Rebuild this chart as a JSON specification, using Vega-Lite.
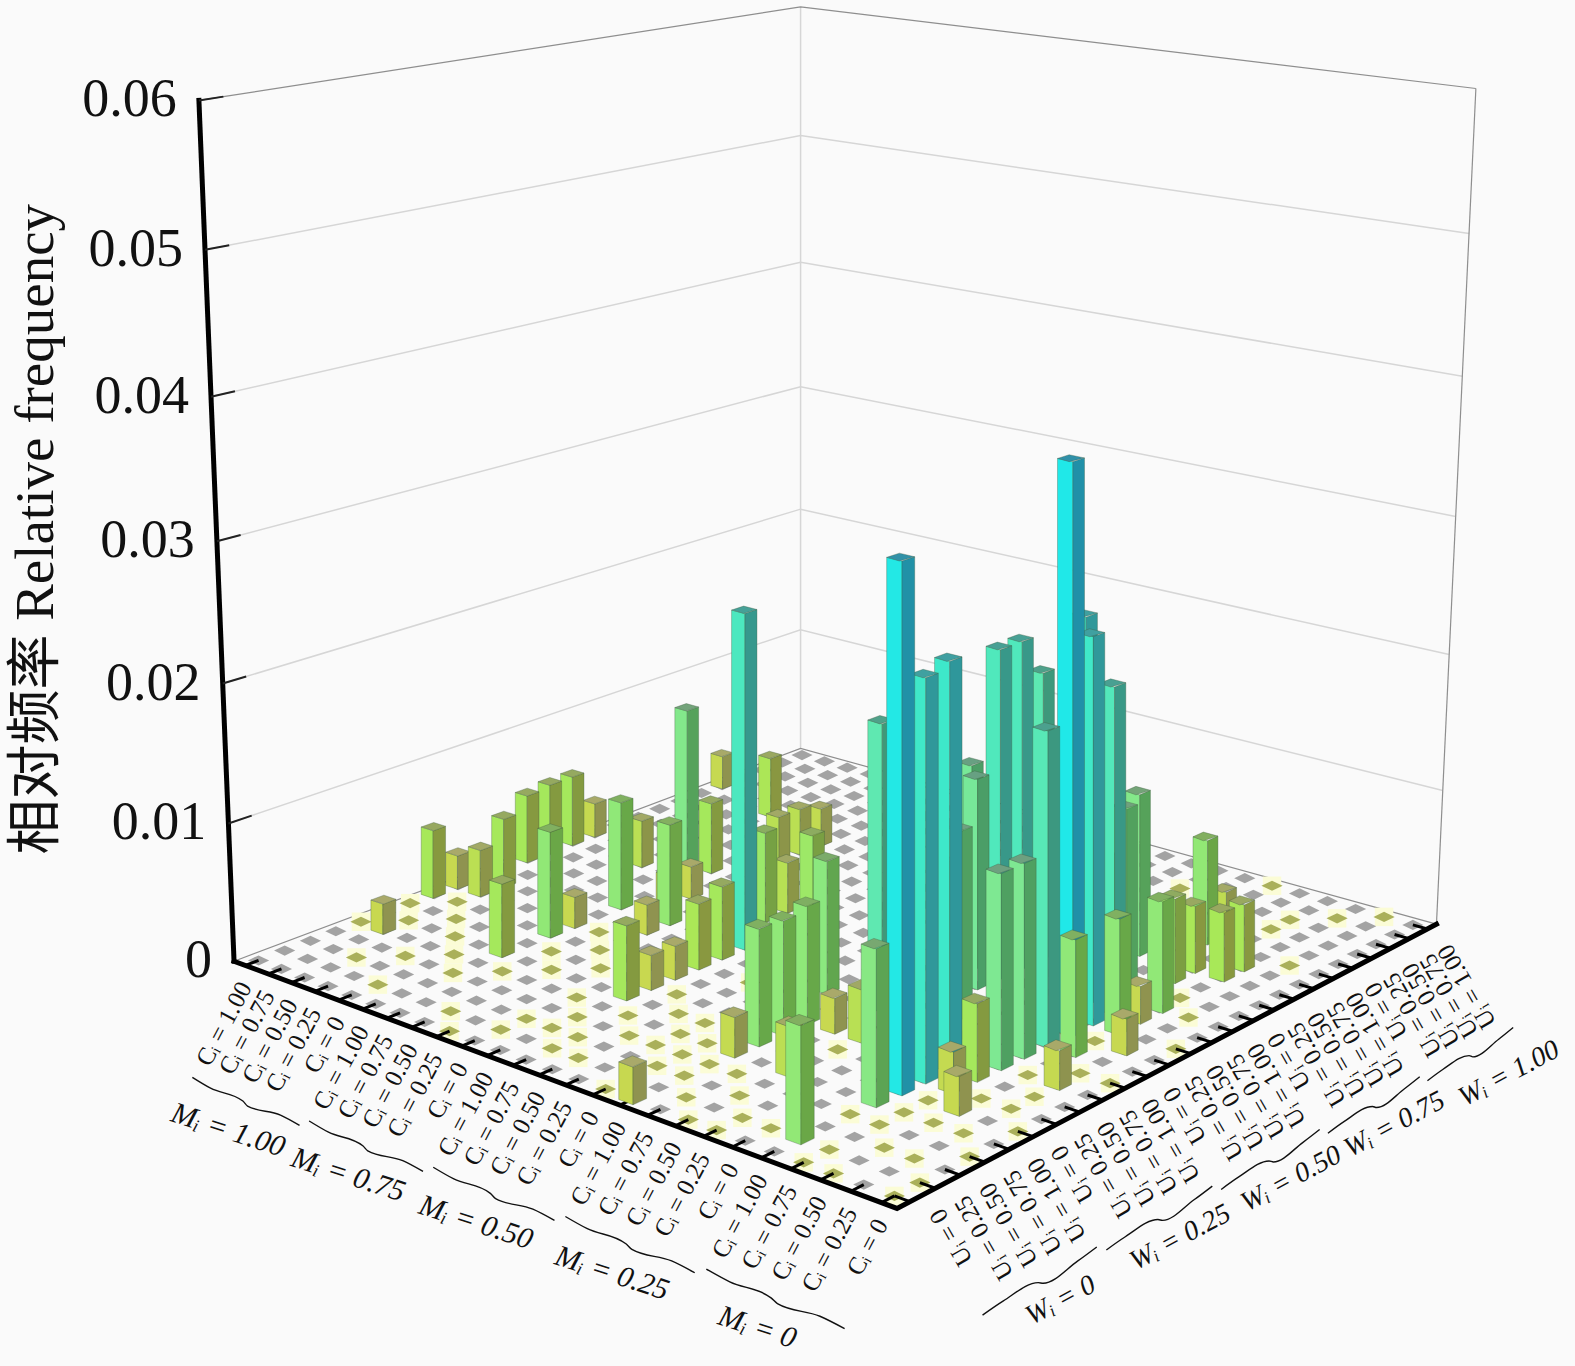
{"$schema":"https://vega.github.io/schema/vega-lite/v6.json","width":1575,"height":1366,"autosize":{"type":"none"},"padding":0,"background":"#fafafa","config":{"view":{"stroke":null}},
"datasets":{
"bars":[{"i":0,"j":20,"value":0.00266},{"i":3,"j":19,"value":0.0047},{"i":0,"j":14,"value":0.00265},{"i":0,"j":13,"value":0.0054},{"i":0,"j":12,"value":0.0054},{"i":6,"j":18,"value":0.00295},{"i":0,"j":11,"value":0.0052},{"i":6,"j":17,"value":0.00356},{"i":3,"j":13,"value":0.0036},{"i":4,"j":14,"value":0.012},{"i":6,"j":16,"value":0.0036},{"i":5,"j":14,"value":0.0054},{"i":0,"j":8,"value":0.00255},{"i":1,"j":9,"value":0.00525},{"i":0,"j":7,"value":0.00514},{"i":1,"j":8,"value":0.00354},{"i":6,"j":12,"value":0.00245},{"i":5,"j":10,"value":0.00805},{"i":6,"j":11,"value":0.00244},{"i":9,"j":13,"value":0.0038},{"i":1,"j":4,"value":0.00225},{"i":5,"j":8,"value":0.00233},{"i":7,"j":10,"value":0.0075},{"i":9,"j":12,"value":0.0067},{"i":10,"j":13,"value":0.0064},{"i":5,"j":7,"value":0.00782},{"i":7,"j":9,"value":0.00225},{"i":5,"j":5,"value":0.00537},{"i":10,"j":10,"value":0.0244},{"i":20,"j":20,"value":0.0032},{"i":10,"j":9,"value":0.00535},{"i":20,"j":19,"value":0.0077},{"i":10,"j":8,"value":0.0048},{"i":19,"j":17,"value":0.0118},{"i":17,"j":15,"value":0.0207},{"i":10,"j":7,"value":0.00246},{"i":18,"j":15,"value":0.00336},{"i":16,"j":13,"value":0.0148},{"i":17,"j":14,"value":0.0235},{"i":10,"j":6,"value":0.00252},{"i":21,"j":17,"value":0.00487},{"i":22,"j":18,"value":0.00487},{"i":17,"j":13,"value":0.0235},{"i":10,"j":5,"value":0.00535},{"i":14,"j":9,"value":0.0095},{"i":22,"j":17,"value":0.005},{"i":21,"j":16,"value":0.0061},{"i":20,"j":15,"value":0.0126},{"i":17,"j":12,"value":0.015},{"i":20,"j":14,"value":0.0098},{"i":20,"j":13,"value":0.0272},{"i":16,"j":9,"value":0.0202},{"i":15,"j":7,"value":0.0083},{"i":18,"j":10,"value":0.0132},{"i":22,"j":14,"value":0.0079},{"i":21,"j":13,"value":0.0229},{"i":15,"j":6,"value":0.008},{"i":16,"j":7,"value":0.00251},{"i":22,"j":13,"value":0.00267},{"i":21,"j":12,"value":0.0269},{"i":15,"j":5,"value":0.00815},{"i":17,"j":7,"value":0.00375},{"i":22,"j":12,"value":0.0081},{"i":21,"j":11,"value":0.0391},{"i":15,"j":4,"value":0.00282},{"i":19,"j":8,"value":0.0129},{"i":21,"j":10,"value":0.0217},{"i":21,"j":9,"value":0.0134},{"i":22,"j":10,"value":0.0081},{"i":23,"j":11,"value":0.00255},{"i":17,"j":4,"value":0.00347},{"i":20,"j":7,"value":0.0276},{"i":21,"j":8,"value":0.0134},{"i":20,"j":6,"value":0.0271},{"i":21,"j":7,"value":0.00534},{"i":15,"j":0,"value":0.00254},{"i":20,"j":5,"value":0.0352},{"i":21,"j":6,"value":0.00283},{"i":23,"j":8,"value":0.0027},{"i":20,"j":4,"value":0.0106},{"i":22,"j":5,"value":0.00265},{"i":20,"j":1,"value":0.0078}],
"cells":[{"i":0,"olive":[4,6]},{"i":1,"olive":[5,7]},{"i":2,"olive":[2,6]},{"i":3,"olive":[3,5]},{"i":4,"olive":[1,4]},{"i":5,"olive":[3]},{"i":6,"olive":[4,6,8]},{"i":7,"olive":[1,5,7]},{"i":8,"olive":[0,6]},{"i":9,"olive":[1,2,4]},{"i":10,"olive":[2,3]},{"i":11,"olive":[1,2,4,6]},{"i":12,"olive":[1,3,5,8]},{"i":13,"olive":[3,4,5]},{"i":14,"olive":[0,1,2,3,4,5]},{"i":15,"olive":[2,3]},{"i":16,"olive":[1,3]},{"i":17,"olive":[0,2,6,22]},{"i":18,"olive":[0,1]},{"i":19,"olive":[1,24]},{"i":20,"olive":[3]},{"i":21,"olive":[0,1,3,4,5,21,22]},{"i":22,"olive":[0,2,4,6,8,11,15,23]},{"i":23,"olive":[2,4,6,7,9,14,19,24]},{"i":24,"olive":[0,1,3,5,9,12]}],
"frame":[
{"id":"g1","k":"grid","u":0,"v":0,"val":0.01},{"id":"g1","k":"grid","u":0,"v":1,"val":0.01},{"id":"g1","k":"grid","u":1,"v":1,"val":0.01},
{"id":"g2","k":"grid","u":0,"v":0,"val":0.02},{"id":"g2","k":"grid","u":0,"v":1,"val":0.02},{"id":"g2","k":"grid","u":1,"v":1,"val":0.02},
{"id":"g3","k":"grid","u":0,"v":0,"val":0.03},{"id":"g3","k":"grid","u":0,"v":1,"val":0.03},{"id":"g3","k":"grid","u":1,"v":1,"val":0.03},
{"id":"g4","k":"grid","u":0,"v":0,"val":0.04},{"id":"g4","k":"grid","u":0,"v":1,"val":0.04},{"id":"g4","k":"grid","u":1,"v":1,"val":0.04},
{"id":"g5","k":"grid","u":0,"v":0,"val":0.05},{"id":"g5","k":"grid","u":0,"v":1,"val":0.05},{"id":"g5","k":"grid","u":1,"v":1,"val":0.05},
{"id":"g6","k":"top","u":0,"v":0,"val":0.06},{"id":"g6","k":"top","u":0,"v":1,"val":0.06},{"id":"g6","k":"top","u":1,"v":1,"val":0.06},
{"id":"b","k":"grid","u":0,"v":1,"val":0},{"id":"b","k":"grid","u":0,"v":1,"val":0.06},
{"id":"r","k":"top","u":1,"v":1,"val":0},{"id":"r","k":"top","u":1,"v":1,"val":0.06},
{"id":"fb","k":"top","u":0,"v":0,"val":0},{"id":"fb","k":"top","u":0,"v":1,"val":0},{"id":"fb","k":"top","u":1,"v":1,"val":0},
{"id":"z","k":"axis","u":0,"v":0,"val":0},{"id":"z","k":"axis","u":0,"v":0,"val":0.06},
{"id":"e","k":"axis","u":0,"v":0,"val":0},{"id":"e","k":"axis","u":1,"v":0,"val":0},{"id":"e","k":"axis","u":1,"v":1,"val":0},
{"id":"t1","k":"tick","u":0,"v":0,"val":0.01},{"id":"t1","k":"tick","u":0,"v":0.035,"val":0.01},
{"id":"t2","k":"tick","u":0,"v":0,"val":0.02},{"id":"t2","k":"tick","u":0,"v":0.035,"val":0.02},
{"id":"t3","k":"tick","u":0,"v":0,"val":0.03},{"id":"t3","k":"tick","u":0,"v":0.035,"val":0.03},
{"id":"t4","k":"tick","u":0,"v":0,"val":0.04},{"id":"t4","k":"tick","u":0,"v":0.035,"val":0.04},
{"id":"t5","k":"tick","u":0,"v":0,"val":0.05},{"id":"t5","k":"tick","u":0,"v":0.035,"val":0.05},
{"id":"t6","k":"tick","u":0,"v":0,"val":0.06},{"id":"t6","k":"tick","u":0,"v":0.035,"val":0.06}],
"labels":[
{"s":"C","g":0.5,"text":"Cᵢ = 1.00"},{"s":"C","g":1.5,"text":"Cᵢ = 0.75"},{"s":"C","g":2.5,"text":"Cᵢ = 0.50"},{"s":"C","g":3.5,"text":"Cᵢ = 0.25"},{"s":"C","g":4.5,"text":"Cᵢ = 0"},
{"s":"C","g":5.5,"text":"Cᵢ = 1.00"},{"s":"C","g":6.5,"text":"Cᵢ = 0.75"},{"s":"C","g":7.5,"text":"Cᵢ = 0.50"},{"s":"C","g":8.5,"text":"Cᵢ = 0.25"},{"s":"C","g":9.5,"text":"Cᵢ = 0"},
{"s":"C","g":10.5,"text":"Cᵢ = 1.00"},{"s":"C","g":11.5,"text":"Cᵢ = 0.75"},{"s":"C","g":12.5,"text":"Cᵢ = 0.50"},{"s":"C","g":13.5,"text":"Cᵢ = 0.25"},{"s":"C","g":14.5,"text":"Cᵢ = 0"},
{"s":"C","g":15.5,"text":"Cᵢ = 1.00"},{"s":"C","g":16.5,"text":"Cᵢ = 0.75"},{"s":"C","g":17.5,"text":"Cᵢ = 0.50"},{"s":"C","g":18.5,"text":"Cᵢ = 0.25"},{"s":"C","g":19.5,"text":"Cᵢ = 0"},
{"s":"C","g":20.5,"text":"Cᵢ = 1.00"},{"s":"C","g":21.5,"text":"Cᵢ = 0.75"},{"s":"C","g":22.5,"text":"Cᵢ = 0.50"},{"s":"C","g":23.5,"text":"Cᵢ = 0.25"},{"s":"C","g":24.5,"text":"Cᵢ = 0"},
{"s":"U","g":0.5,"text":"Uᵢ = 0"},{"s":"U","g":1.5,"text":"Uᵢ = 0.25"},{"s":"U","g":2.5,"text":"Uᵢ = 0.50"},{"s":"U","g":3.5,"text":"Uᵢ = 0.75"},{"s":"U","g":4.5,"text":"Uᵢ = 1.00"},
{"s":"U","g":5.5,"text":"Uᵢ = 0"},{"s":"U","g":6.5,"text":"Uᵢ = 0.25"},{"s":"U","g":7.5,"text":"Uᵢ = 0.50"},{"s":"U","g":8.5,"text":"Uᵢ = 0.75"},{"s":"U","g":9.5,"text":"Uᵢ = 1.00"},
{"s":"U","g":10.5,"text":"Uᵢ = 0"},{"s":"U","g":11.5,"text":"Uᵢ = 0.25"},{"s":"U","g":12.5,"text":"Uᵢ = 0.50"},{"s":"U","g":13.5,"text":"Uᵢ = 0.75"},{"s":"U","g":14.5,"text":"Uᵢ = 1.00"},
{"s":"U","g":15.5,"text":"Uᵢ = 0"},{"s":"U","g":16.5,"text":"Uᵢ = 0.25"},{"s":"U","g":17.5,"text":"Uᵢ = 0.50"},{"s":"U","g":18.5,"text":"Uᵢ = 0.75"},{"s":"U","g":19.5,"text":"Uᵢ = 1.00"},
{"s":"U","g":20.5,"text":"Uᵢ = 0"},{"s":"U","g":21.5,"text":"Uᵢ = 0.25"},{"s":"U","g":22.5,"text":"Uᵢ = 0.50"},{"s":"U","g":23.5,"text":"Uᵢ = 0.75"},{"s":"U","g":24.5,"text":"Uᵢ = 1.00"},
{"s":"M","g":2.5,"text":"Mᵢ = 1.00"},{"s":"M","g":7.5,"text":"Mᵢ = 0.75"},{"s":"M","g":12.5,"text":"Mᵢ = 0.50"},{"s":"M","g":17.5,"text":"Mᵢ = 0.25"},{"s":"M","g":22.5,"text":"Mᵢ = 0"},
{"s":"W","g":2.5,"text":"Wᵢ = 0"},{"s":"W","g":7.5,"text":"Wᵢ = 0.25"},{"s":"W","g":12.5,"text":"Wᵢ = 0.50"},{"s":"W","g":17.5,"text":"Wᵢ = 0.75"},{"s":"W","g":22.5,"text":"Wᵢ = 1.00"},
{"s":"Z","g":0,"val":0,"text":"0"},{"s":"Z","g":0,"val":0.01,"text":"0.01"},{"s":"Z","g":0,"val":0.02,"text":"0.02"},{"s":"Z","g":0,"val":0.03,"text":"0.03"},{"s":"Z","g":0,"val":0.04,"text":"0.04"},{"s":"Z","g":0,"val":0.05,"text":"0.05"},{"s":"Z","g":0,"val":0.06,"text":"0.06"},
{"s":"T","g":0,"val":0.03,"text":"相对频率 Relative frequency"}],
"braces":[
{"s":"M","id":"M1","g":0.2,"b":-1},{"s":"M","id":"M1","g":1,"b":0},{"s":"M","id":"M1","g":2.4,"b":0.2},{"s":"M","id":"M1","g":2.6,"b":1},{"s":"M","id":"M1","g":4,"b":0.2},{"s":"M","id":"M1","g":4.8,"b":1},
{"s":"M","id":"M2","g":5.2,"b":-1},{"s":"M","id":"M2","g":6,"b":0},{"s":"M","id":"M2","g":7.4,"b":0.2},{"s":"M","id":"M2","g":7.6,"b":1},{"s":"M","id":"M2","g":9,"b":0.2},{"s":"M","id":"M2","g":9.8,"b":1},
{"s":"M","id":"M3","g":10.2,"b":-1},{"s":"M","id":"M3","g":11,"b":0},{"s":"M","id":"M3","g":12.4,"b":0.2},{"s":"M","id":"M3","g":12.6,"b":1},{"s":"M","id":"M3","g":14,"b":0.2},{"s":"M","id":"M3","g":14.8,"b":1},
{"s":"M","id":"M4","g":15.2,"b":-1},{"s":"M","id":"M4","g":16,"b":0},{"s":"M","id":"M4","g":17.4,"b":0.2},{"s":"M","id":"M4","g":17.6,"b":1},{"s":"M","id":"M4","g":19,"b":0.2},{"s":"M","id":"M4","g":19.8,"b":1},
{"s":"M","id":"M5","g":20.2,"b":-1},{"s":"M","id":"M5","g":21,"b":0},{"s":"M","id":"M5","g":22.4,"b":0.2},{"s":"M","id":"M5","g":22.6,"b":1},{"s":"M","id":"M5","g":24,"b":0.2},{"s":"M","id":"M5","g":24.8,"b":1},
{"s":"W","id":"W1","g":0.2,"b":1},{"s":"W","id":"W1","g":1,"b":0.2},{"s":"W","id":"W1","g":2.4,"b":0.2},{"s":"W","id":"W1","g":2.6,"b":1},{"s":"W","id":"W1","g":4,"b":0},{"s":"W","id":"W1","g":4.8,"b":-1},
{"s":"W","id":"W2","g":5.2,"b":1},{"s":"W","id":"W2","g":6,"b":0.2},{"s":"W","id":"W2","g":7.4,"b":0.2},{"s":"W","id":"W2","g":7.6,"b":1},{"s":"W","id":"W2","g":9,"b":0},{"s":"W","id":"W2","g":9.8,"b":-1},
{"s":"W","id":"W3","g":10.2,"b":1},{"s":"W","id":"W3","g":11,"b":0.2},{"s":"W","id":"W3","g":12.4,"b":0.2},{"s":"W","id":"W3","g":12.6,"b":1},{"s":"W","id":"W3","g":14,"b":0},{"s":"W","id":"W3","g":14.8,"b":-1},
{"s":"W","id":"W4","g":15.2,"b":1},{"s":"W","id":"W4","g":16,"b":0.2},{"s":"W","id":"W4","g":17.4,"b":0.2},{"s":"W","id":"W4","g":17.6,"b":1},{"s":"W","id":"W4","g":19,"b":0},{"s":"W","id":"W4","g":19.8,"b":-1},
{"s":"W","id":"W5","g":20.2,"b":1},{"s":"W","id":"W5","g":21,"b":0.2},{"s":"W","id":"W5","g":22.4,"b":0.2},{"s":"W","id":"W5","g":22.6,"b":1},{"s":"W","id":"W5","g":24,"b":0},{"s":"W","id":"W5","g":24.8,"b":-1}]
},
"encoding":{"x":{"field":"x","type":"quantitative","scale":{"domain":[0,1568],"nice":false,"zero":false},"axis":null},"y":{"field":"y","type":"quantitative","stack":null,"scale":{"domain":[1360,0],"nice":false,"zero":false},"axis":null}},
"layer":[
{"data":{"name":"frame"},"transform":[
{"calculate":"datum.val/0.06/(1.05-0.05*datum.val/0.06)","as":"tp"},
{"calculate":"(528.5*datum.u+697.6*datum.v+233)/(1-0.1473*datum.u+0.1676*datum.v)","as":"fx"},
{"calculate":"datum.fx+0.062*datum.tp*(datum.fx-797)","as":"x"},
{"calculate":"(68.9*datum.u-87.1*datum.v+957)/(1-0.1473*datum.u+0.1676*datum.v)-857*datum.tp/(1-0.131*datum.u+0.161*datum.v)","as":"y"}],
"layer":[
{"transform":[{"filter":"datum.k=='grid'"}],"mark":{"type":"line","stroke":"#d6d6d6","strokeWidth":1.5},"encoding":{"detail":{"field":"id"}}},
{"transform":[{"filter":"datum.k=='top'"}],"mark":{"type":"line","stroke":"#8e8e8e","strokeWidth":1.2},"encoding":{"detail":{"field":"id"}}}
]},
{"data":{"name":"cells"},"transform":[
{"calculate":"[0,1,2,3,4,5,6,7,8,9,10,11,12,13,14,15,16,17,18,19,20,21,22,23,24]","as":"j"},
{"flatten":["j"]},
{"calculate":"indexof(datum.olive,datum.j)>=0","as":"isOlive"},
{"calculate":"(datum.i+0.5)/25","as":"u"},{"calculate":"(datum.j+0.5)/25","as":"v"},
{"calculate":"(528.5*datum.u+697.6*datum.v+233)/(1-0.1473*datum.u+0.1676*datum.v)","as":"x"},
{"calculate":"(68.9*datum.u-87.1*datum.v+957)/(1-0.1473*datum.u+0.1676*datum.v)","as":"y"},
{"calculate":"datum.x","as":"x0"},{"calculate":"datum.y","as":"y0"}],
"layer":[
{"transform":[{"filter":"datum.isOlive"}],"mark":{"type":"point","filled":true,"shape":"square","size":340,"opacity":1,"color":"#fbfcd6"}},
{"transform":[{"filter":"!datum.isOlive"}],"mark":{"type":"point","filled":true,"shape":"M-1,0L0,-0.48L1,0L0,0.48Z","size":450,"opacity":1,"color":"#a3a3a3"}},
{"transform":[{"filter":"datum.isOlive"}],"mark":{"type":"point","filled":true,"shape":"M-1,0L0,-0.48L1,0L0,0.48Z","size":450,"opacity":1,"color":"#aab05a"}},
{"transform":[{"filter":"datum.j==0"},{"calculate":"(528.5*datum.u+233)/(1-0.1473*datum.u)","as":"x"},{"calculate":"(68.9*datum.u+957)/(1-0.1473*datum.u)","as":"y"}],"mark":{"type":"rule","stroke":"#000","strokeWidth":3},"encoding":{"x2":{"field":"x0"},"y2":{"field":"y0"}}},
{"transform":[{"filter":"datum.i==24"},{"calculate":"(761.5+697.6*datum.v)/(0.8527+0.1676*datum.v)","as":"x"},{"calculate":"(1025.9-87.1*datum.v)/(0.8527+0.1676*datum.v)","as":"y"}],"mark":{"type":"rule","stroke":"#000","strokeWidth":3},"encoding":{"x2":{"field":"x0"},"y2":{"field":"y0"}}}
]},
{"data":{"name":"bars"},"transform":[
{"calculate":"[0,1,2,3,4,5,6]","as":"vert"},{"flatten":["vert"]},
{"calculate":"datum.vert<2?0:datum.vert<4?1:2","as":"face"},
{"calculate":"'b'+datum.i+'_'+datum.j+'_'+datum.face","as":"key"},
{"calculate":"datum.value+datum.face","as":"cv"},
{"calculate":"datum.value/0.06/(1.05-0.05*datum.value/0.06)","as":"tp"},
{"calculate":"[-1,1,1,1,-1,-1,1][datum.vert]","as":"si"},
{"calculate":"[-1,-1,-1,1,-1,1,1][datum.vert]","as":"sj"},
{"calculate":"(datum.i+0.5+0.26*datum.si)/25","as":"ua"},
{"calculate":"(datum.j+0.5+0.26*datum.sj)/25","as":"va"},
{"calculate":"datum.vert==5?(datum.i+0.76)/25:datum.ua","as":"ub"},
{"calculate":"datum.vert==5?(datum.j+0.24)/25:datum.va","as":"vb"},
{"calculate":"datum.face==2?datum.tp:0","as":"tb"},
{"calculate":"(528.5*datum.ua+697.6*datum.va+233)/(1-0.1473*datum.ua+0.1676*datum.va)","as":"fx"},
{"calculate":"datum.fx+0.031*datum.tp*(datum.fx-797)","as":"x"},
{"calculate":"(68.9*datum.ua-87.1*datum.va+957)/(1-0.1473*datum.ua+0.1676*datum.va)-857*datum.tp/(1-0.131*datum.ua+0.161*datum.va)","as":"y"},
{"calculate":"(68.9*datum.ub-87.1*datum.vb+957)/(1-0.1473*datum.ub+0.1676*datum.vb)-857*datum.tb/(1-0.131*datum.ub+0.161*datum.vb)","as":"yb"}],
"mark":{"type":"area","orient":"vertical","stroke":"#3c5a3c","strokeWidth":0.6,"strokeOpacity":0.55,"opacity":1},
"encoding":{"y2":{"field":"yb"},"detail":{"field":"key"},"color":{"field":"cv","type":"quantitative","legend":null,"scale":{"clamp":true,"interpolate":"rgb","domain":[0.0025,0.005,0.008,0.013,0.02,0.027,0.036,1.0025,1.005,1.008,1.013,1.02,1.027,1.036,2.0025,2.005,2.008,2.013,2.02,2.027,2.036],"range":["#c8d850","#a8e858","#90e878","#80e890","#60e8b0","#40e8c8","#20e8e8","#8f9350","#88983f","#68a848","#50a060","#409878","#30989a","#2090a8","#a9a96a","#98a860","#80b060","#70a080","#50a088","#40a0a0","#3090a8"]}}}},
{"data":{"name":"frame"},"transform":[
{"filter":"datum.k=='axis'||datum.k=='tick'"},
{"calculate":"datum.val/0.06/(1.05-0.05*datum.val/0.06)","as":"tp"},
{"calculate":"(528.5*datum.u+697.6*datum.v+233)/(1-0.1473*datum.u+0.1676*datum.v)","as":"fx"},
{"calculate":"datum.fx+0.062*datum.tp*(datum.fx-797)","as":"x"},
{"calculate":"(68.9*datum.u-87.1*datum.v+957)/(1-0.1473*datum.u+0.1676*datum.v)-857*datum.tp/(1-0.131*datum.u+0.161*datum.v)","as":"y"}],
"layer":[
{"transform":[{"filter":"datum.k=='axis'"}],"mark":{"type":"line","stroke":"#000","strokeWidth":5,"strokeCap":"square"},"encoding":{"detail":{"field":"id"}}},
{"transform":[{"filter":"datum.k=='tick'"}],"mark":{"type":"line","stroke":"#222","strokeWidth":2},"encoding":{"detail":{"field":"id"}}}
]},
{"data":{"name":"braces"},"transform":[
{"calculate":"datum.s=='M'?datum.g/25:1","as":"u"},{"calculate":"datum.s=='M'?0:datum.g/25","as":"v"},
{"calculate":"(528.5*datum.u+697.6*datum.v+233)/(1-0.1473*datum.u+0.1676*datum.v)+(datum.s=='M'?-46:80)","as":"x"},
{"calculate":"(68.9*datum.u-87.1*datum.v+957)/(1-0.1473*datum.u+0.1676*datum.v)+(datum.s=='M'?118:105)+4*datum.b","as":"y"}],
"mark":{"type":"line","stroke":"#111","strokeWidth":1.4,"interpolate":"monotone"},"encoding":{"detail":{"field":"id"}}},
{"data":{"name":"labels"},"transform":[
{"calculate":"datum.s=='C'||datum.s=='M'?datum.g/25:datum.s=='U'||datum.s=='W'?1:0","as":"u"},
{"calculate":"datum.s=='U'||datum.s=='W'?datum.g/25:0","as":"v"},
{"calculate":"(datum.val||0)/0.06/(1.05-0.05*(datum.val||0)/0.06)","as":"tp"},
{"calculate":"(528.5*datum.u+697.6*datum.v+233)/(1-0.1473*datum.u+0.1676*datum.v)","as":"fx"},
{"calculate":"datum.fx+0.062*datum.tp*(datum.fx-797)+{'C':0,'U':26-0.4*datum.g,'M':-63,'W':datum.g>20?118:100,'Z':-22,'T':-180}[datum.s]","as":"x"},
{"calculate":"(68.9*datum.u-87.1*datum.v+957)/(1-0.1473*datum.u+0.1676*datum.v)-857*datum.tp/(1-0.131*datum.u+0.161*datum.v)+{'C':18,'U':9+0.35*datum.g,'M':147,'W':125,'Z':0,'T':-12}[datum.s]","as":"y"}],
"layer":[
{"transform":[{"filter":"datum.s=='C'"}],"mark":{"type":"text","align":"right","baseline":"middle","angle":-62,"font":"Liberation Serif","fontSize":25,"color":"#111"},"encoding":{"text":{"field":"text"}}},
{"transform":[{"filter":"datum.s=='U'"}],"mark":{"type":"text","align":"right","baseline":"middle","angle":-120,"font":"Liberation Serif","fontSize":25,"color":"#111"},"encoding":{"text":{"field":"text"}}},
{"transform":[{"filter":"datum.s=='M'"}],"mark":{"type":"text","align":"center","baseline":"middle","angle":18,"font":"Liberation Serif","fontStyle":"italic","fontSize":30,"color":"#111"},"encoding":{"text":{"field":"text"}}},
{"transform":[{"filter":"datum.s=='W'"}],"mark":{"type":"text","align":"center","baseline":"middle","angle":-28,"font":"Liberation Serif","fontStyle":"italic","fontSize":28,"color":"#111"},"encoding":{"text":{"field":"text"}}},
{"transform":[{"filter":"datum.s=='Z'"}],"mark":{"type":"text","align":"right","baseline":"middle","font":"Liberation Serif","fontSize":54,"color":"#111"},"encoding":{"text":{"field":"text"}}},
{"transform":[{"filter":"datum.s=='T'"}],"mark":{"type":"text","align":"center","baseline":"middle","angle":-90,"font":"Liberation Serif, Noto Sans CJK SC","fontSize":55,"color":"#111"},"encoding":{"text":{"field":"text"}}}
]}
]}
